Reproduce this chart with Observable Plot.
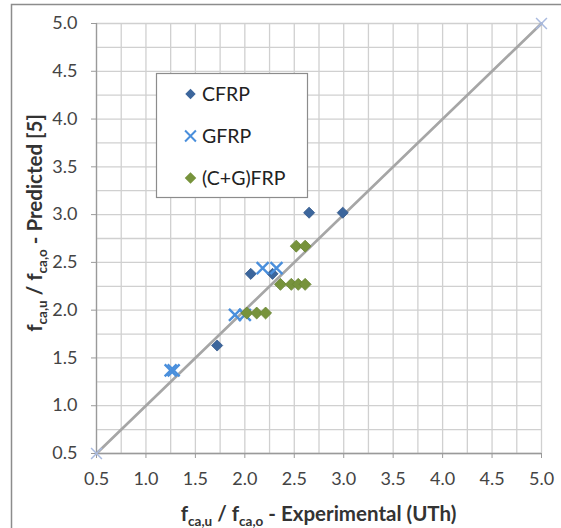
<!DOCTYPE html>
<html><head><meta charset="utf-8">
<script src="https://cdn.jsdelivr.net/npm/d3@7"></script>
<script src="https://cdn.jsdelivr.net/npm/@observablehq/plot@0.6"></script>
<style>
body{margin:0;background:#fff;}
#wrap{position:relative;width:561px;height:528px;overflow:hidden;}
#wrap svg{position:absolute;left:0;top:0;}
</style></head><body><div id="wrap"></div>
<script>
// ---- data ----
const seriesNames = ["CFRP", "GFRP", "(C+G)FRP"];
const cfrpX = [1.72, 2.06, 2.28, 2.65, 2.99];
const cfrpY = [1.63, 2.38, 2.38, 3.02, 3.02];
const gfrpX = [1.25, 1.28, 1.90, 2.00, 2.18, 2.32];
const gfrpY = [1.37, 1.37, 1.95, 1.95, 2.44, 2.44];
const cgX = [2.02, 2.12, 2.21, 2.36, 2.47, 2.54, 2.61, 2.52, 2.61];
const cgY = [1.97, 1.97, 1.97, 2.27, 2.27, 2.27, 2.27, 2.67, 2.67];
const lineX = [0.5, 5.0];
const lineY = [0.5, 5.0];
const tickValues = [0.5, 1.0, 1.5, 2.0, 2.5, 3.0, 3.5, 4.0, 4.5, 5.0];
const gridValues = [0.5, 0.75, 1.0, 1.25, 1.5, 1.75, 2.0, 2.25, 2.5, 2.75, 3.0, 3.25, 3.5, 3.75, 4.0, 4.25, 4.5, 4.75, 5.0];

const toRows = (xs, ys) => xs.map((x, i) => ({x, y: ys[i]}));
const cfrp = toRows(cfrpX, cfrpY);
const gfrp = toRows(gfrpX, gfrpY);
const cg = toRows(cgX, cgY);
const diag = toRows(lineX, lineY);

const colors = {cfrp: "#3c669c", cfrpStroke: "#32588a", gfrp: "#4a8fdc", cg: "#77933c", cgStroke: "#6a8535"};
const fmt = d3.format(".1f");

const chart = Plot.plot({
  width: 561, height: 528,
  marginLeft: 96, marginRight: 20, marginTop: 23, marginBottom: 75,
  style: {fontFamily: "Lato, sans-serif", fontSize: "18px", color: "#444", background: "transparent"},
  x: {domain: [0.5, 5], label: null},
  y: {domain: [0.5, 5], label: null},
  marks: [
    Plot.gridX(gridValues, {stroke: "#d0d0d0", strokeOpacity: 1, strokeWidth: 1.3}),
    Plot.gridY(gridValues, {stroke: "#d0d0d0", strokeOpacity: 1, strokeWidth: 1.3}),
    Plot.axisX(tickValues, {tickFormat: fmt, tickSize: 5, tickPadding: 14, stroke: "#9a9a9a", fill: "#444"}),
    Plot.axisY(tickValues, {tickFormat: fmt, tickSize: 5, tickPadding: 14, stroke: "#9a9a9a", fill: "#444"}),
    Plot.ruleX([0.5], {stroke: "#9a9a9a", strokeWidth: 1.3}),
    Plot.ruleY([0.5], {stroke: "#9a9a9a", strokeWidth: 1.3}),
    Plot.line(diag, {x: "x", y: "y", stroke: "#a6a6a6", strokeWidth: 2.7}),
    Plot.dot(diag, {x: "x", y: "y", symbol: "times", r: 5, stroke: "#a9badf", strokeWidth: 1.5}),
    Plot.dot(cfrp, {x: "x", y: "y", symbol: "diamond2", r: 5, fill: colors.cfrp, stroke: colors.cfrpStroke, strokeWidth: 0.8}),
    Plot.dot(gfrp, {x: "x", y: "y", symbol: "times", r: 5.5, stroke: colors.gfrp, strokeWidth: 2.4}),
    Plot.dot(cg, {x: "x", y: "y", symbol: "diamond2", r: 5.4, fill: colors.cg, stroke: colors.cgStroke, strokeWidth: 0.8})
  ]
});
document.getElementById("wrap").appendChild(chart);

const svg = d3.select(chart);
// outer chart border
svg.append("path").attr("d", "M11.5,540V4.5H570").attr("fill", "none").attr("stroke", "#8c8c8c").attr("stroke-width", 1.5);

function titled(g, parts) {
  const t = g.append("text").attr("font-family", "Lato, sans-serif").attr("font-weight", "bold")
    .attr("font-size", 20.5).attr("fill", "#333");
  parts.forEach(([s, sub], i) => {
    const sp = t.append("tspan").text(s);
    if (sub) sp.attr("font-size", 13.5).attr("dy", 4.5);
    else if (i > 0) sp.attr("dy", -4.5);
  });
  return t;
}
const parts = (tail) => [["f", false], ["ca,u", true], [" / f", false], ["ca,o", true], [tail, false]];
titled(svg.append("g"), parts(" - Experimental (UTh)")).attr("x", 318.5).attr("y", 521).attr("text-anchor", "middle");
titled(svg.append("g").attr("transform", "translate(42,223) rotate(-90)"), parts(" - Predicted [5]")).attr("x", 0).attr("y", 0).attr("text-anchor", "middle");

// legend
const lg = svg.append("g");
lg.append("rect").attr("x", 156.5).attr("y", 73.5).attr("width", 151).attr("height", 124).attr("fill", "#fff").attr("stroke", "#8c8c8c").attr("stroke-width", 1.2);
const sym = [
  {name: seriesNames[0], type: d3.symbolDiamond2, size: Math.PI * 22, fill: colors.cfrp, stroke: "none"},
  {name: seriesNames[1], type: d3.symbolTimes, size: Math.PI * 25, fill: "none", stroke: colors.gfrp},
  {name: seriesNames[2], type: d3.symbolDiamond2, size: Math.PI * 27, fill: colors.cg, stroke: "none"}
];
sym.forEach((s, i) => {
  const cy = 94 + i * 42;
  lg.append("path").attr("transform", `translate(190.5,${cy})`).attr("d", d3.symbol(s.type, s.size)())
    .attr("fill", s.fill).attr("stroke", s.stroke).attr("stroke-width", 2);
  lg.append("text").attr("x", 202).attr("y", cy).attr("dy", "0.35em").attr("text-anchor", "start")
    .attr("font-family", "Lato, sans-serif").attr("font-size", 19.5).attr("fill", "#222").text(s.name);
});
</script></body></html>
